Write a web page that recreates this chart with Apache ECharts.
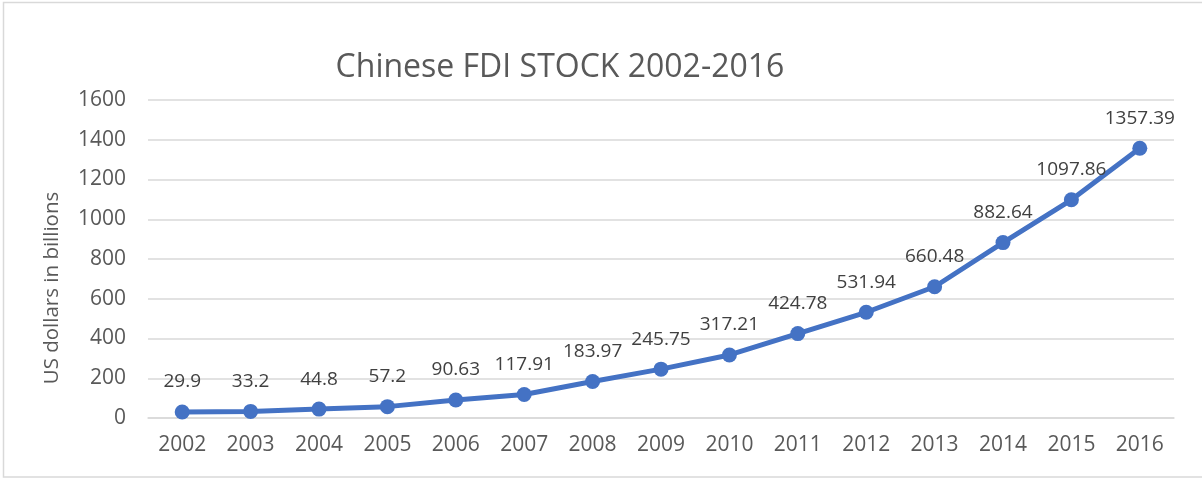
<!DOCTYPE html>
<html>
<head>
<meta charset="utf-8">
<script src="https://cdn.jsdelivr.net/npm/echarts@6/dist/echarts.min.js"></script>
<style>
  html, body { margin: 0; padding: 0; background: #fff; }
  #chart { width: 1202px; height: 479px; }
</style>
</head>
<body>
<div id="chart"></div>
<script>
// data
const years = ['2002', '2003', '2004', '2005', '2006', '2007', '2008', '2009',
  '2010', '2011', '2012', '2013', '2014', '2015', '2016']
const fdiStock = [29.9, 33.2, 44.8, 57.2, 90.63, 117.91, 183.97, 245.75,
  317.21, 424.78, 531.94, 660.48, 882.64, 1097.86, 1357.39]

const font = '"Open Sans", "Noto Sans", sans-serif'

const chart = echarts.init(document.getElementById('chart'))
chart.setOption({
  backgroundColor: '#fff',
  animation: false,
  textStyle: { fontFamily: font },
  title: {
    text: 'Chinese FDI STOCK 2002-2016',
    left: 555,
    top: 47,
    textAlign: 'center',
    textStyle: { fontFamily: font, fontSize: 32, fontWeight: 'normal', color: '#595959' }
  },
  graphic: [{
    type: 'rect',
    shape: { x: 3.5, y: 2.5, width: 1220, height: 474.5 },
    style: { fill: 'none', stroke: '#d9d9d9', lineWidth: 1.5 },
    silent: true
  }],
  grid: { left: 148, right: 28, top: 100, bottom: 61 },
  xAxis: {
    type: 'category',
    data: years,
    boundaryGap: true,
    axisLine: { lineStyle: { color: '#d9d9d9', width: 1.5 } },
    axisTick: { show: false },
    axisLabel: { color: '#595959', fontSize: 21, margin: 17, fontFamily: font }
  },
  yAxis: {
    type: 'value',
    min: 0,
    max: 1600,
    interval: 200,
    name: 'US dollars in billions',
    nameLocation: 'middle',
    nameGap: 85,
    nameTextStyle: {
      color: '#595959', fontSize: 20.5, fontFamily: font,
      padding: [0, 58, 0, 0]
    },
    axisLine: { show: false },
    axisTick: { show: false },
    axisLabel: {
      color: '#595959', fontSize: 21, margin: 22, fontFamily: font,
      formatter: v => String(v)
    },
    splitLine: { lineStyle: { color: '#d9d9d9', width: 1.5 } }
  },
  series: [{
    type: 'line',
    data: fdiStock,
    color: '#4472C4',
    lineStyle: { width: 5, color: '#4472C4' },
    symbol: 'circle',
    symbolSize: 15,
    itemStyle: { color: '#4472C4' },
    label: {
      show: true,
      position: 'top',
      distance: 13,
      color: '#404040',
      fontSize: 19,
      fontFamily: font
    }
  }]
})
</script>
</body>
</html>
